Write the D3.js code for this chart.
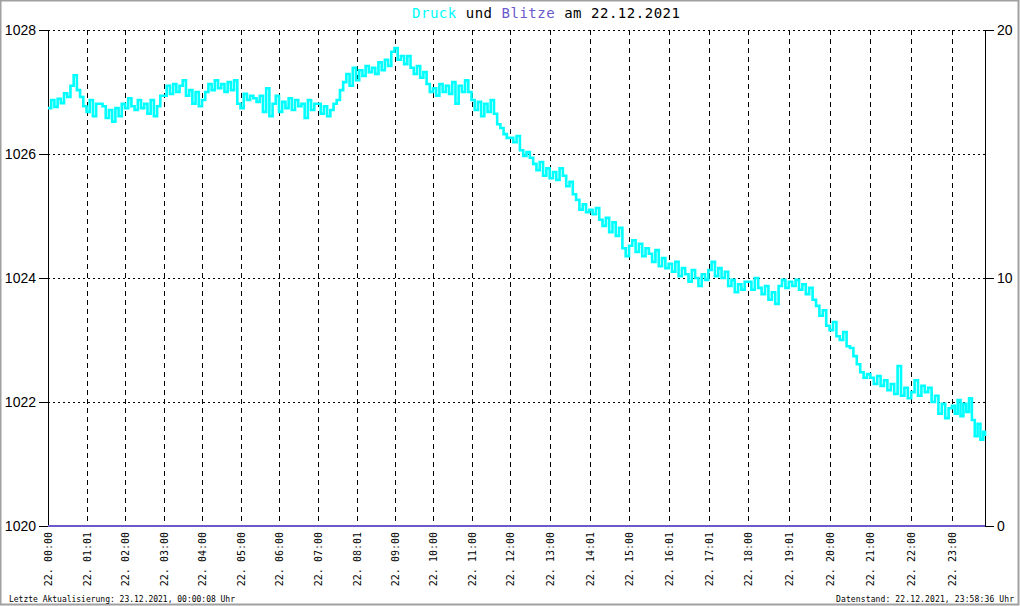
<!DOCTYPE html>
<html><head><meta charset="utf-8">
<script src="https://cdn.jsdelivr.net/npm/d3@7"></script>
<style>body{margin:0;background:#fff;overflow:hidden}</style>
</head><body><svg id="c" width="1020" height="606"></svg>
<script>
// ---- data ----
const druckStepMinutes = 5;
const druckLastMinute = 1438;
const druck = [
1026.74,1026.87,1026.76,1026.89,1026.82,1026.98,1026.92,1027.10,1027.27,1027.03,1026.92,1026.77,
1026.68,1026.87,1026.61,1026.81,1026.81,1026.77,1026.58,1026.71,1026.52,1026.74,1026.61,1026.81,
1026.74,1026.90,1026.77,1026.71,1026.87,1026.74,1026.81,1026.65,1026.87,1026.61,1026.77,1026.94,
1026.94,1027.10,1026.97,1027.13,1027.00,1027.10,1027.19,1026.94,1027.03,1026.81,1027.00,1026.77,
1026.87,1027.00,1027.13,1027.03,1027.19,1027.06,1027.13,1027.00,1027.16,1027.03,1027.19,1026.81,
1026.74,1026.97,1026.87,1026.94,1026.90,1026.84,1026.94,1026.68,1027.06,1026.61,1026.81,1026.94,
1026.68,1026.84,1026.74,1026.90,1026.71,1026.87,1026.77,1026.81,1026.58,1026.87,1026.71,1026.81,
1026.81,1026.65,1026.77,1026.61,1026.71,1026.81,1026.87,1027.03,1027.16,1027.29,1027.10,1027.39,
1027.19,1027.35,1027.26,1027.42,1027.32,1027.39,1027.29,1027.48,1027.35,1027.52,1027.42,1027.65,
1027.71,1027.52,1027.58,1027.45,1027.58,1027.39,1027.29,1027.42,1027.23,1027.32,1027.13,1027.00,
1027.06,1026.94,1027.13,1027.00,1027.10,1026.97,1027.16,1026.81,1027.10,1027.00,1027.19,1027.00,
1026.87,1026.71,1026.84,1026.61,1026.81,1026.68,1026.87,1026.65,1026.48,1026.42,1026.32,1026.26,
1026.26,1026.19,1026.29,1026.06,1025.97,1026.03,1025.94,1025.84,1025.74,1025.87,1025.65,1025.77,
1025.61,1025.71,1025.58,1025.77,1025.65,1025.48,1025.55,1025.35,1025.26,1025.10,1025.19,1025.06,
1025.10,1025.03,1025.13,1024.94,1024.84,1024.97,1024.74,1024.90,1024.68,1024.81,1024.48,1024.35,
1024.52,1024.61,1024.42,1024.55,1024.35,1024.48,1024.39,1024.26,1024.45,1024.19,1024.32,1024.16,
1024.23,1024.10,1024.26,1024.03,1024.16,1024.06,1023.94,1024.13,1024.00,1023.87,1024.06,1023.97,
1024.13,1024.26,1024.03,1024.16,1024.00,1024.10,1023.87,1023.97,1023.77,1023.90,1023.81,1023.94,
1023.94,1023.81,1024.00,1023.84,1023.74,1023.87,1023.65,1023.77,1023.58,1023.87,1023.97,1023.84,
1023.94,1023.87,1023.97,1023.81,1023.90,1023.74,1023.84,1023.65,1023.55,1023.39,1023.48,1023.23,
1023.16,1023.29,1023.06,1023.00,1023.13,1022.90,1022.87,1022.74,1022.61,1022.48,1022.39,1022.45,
1022.39,1022.29,1022.42,1022.26,1022.35,1022.19,1022.29,1022.13,1022.58,1022.10,1022.23,1022.06,
1022.16,1022.35,1022.10,1022.26,1022.16,1022.23,1022.00,1022.10,1021.81,1021.97,1021.74,1021.90,
1021.94,1021.81,1022.03,1021.77,1021.97,1021.84,1022.06,1021.71,1021.45,1021.65,1021.39,1021.52,
1021.45
];
const blitzeMinutes = [0, 1438];
const blitze = [0, 0];
const leftTicks = [1020, 1022, 1024, 1026, 1028];
const rightTicks = [0, 10, 20];
const hourTickMinutes = [0,61,120,180,240,300,360,420,481,540,600,660,720,780,841,900,961,1021,1080,1141,1200,1260,1320,1380];
const hourTickLabels = ["22. 00:00","22. 01:01","22. 02:00","22. 03:00","22. 04:00","22. 05:00","22. 06:00","22. 07:00","22. 08:01","22. 09:00","22. 10:00","22. 11:00","22. 12:00","22. 13:00","22. 14:01","22. 15:00","22. 16:01","22. 17:01","22. 18:00","22. 19:01","22. 20:00","22. 21:00","22. 22:00","22. 23:00"];
const titleParts = [["Druck","#00ffff"],[" und ","#000"],["Blitze","#6a5acd"],[" am 22.12.2021","#000"]];
const footerLeft = "Letzte Aktualisierung: 23.12.2021, 00:00:08 Uhr";
const footerRight = "Datenstand: 22.12.2021, 23:58:36 Uhr";

// ---- layout ----
const L = 48, R = 985, T = 30, B = 526;
const svg = d3.select("#c");
const mono = "'DejaVu Sans Mono', monospace";

svg.append("rect").attr("x",0.5).attr("y",0.5).attr("width",1018).attr("height",604)
  .attr("fill","#fff").attr("stroke","#a0a0a0").attr("stroke-width",2);

// x scale (data points are spaced by index in original -> slightly uneven hours)
const x = d3.scaleLinear().domain([0, 720, 1080, 1380, 1438]).range([L, 510, 748, 952, R]);
const y = d3.scaleLinear().domain([1020, 1028]).range([B, T]);
const y2 = d3.scaleLinear().domain([0, 20]).range([B, T]);

// gridlines
svg.append("g").selectAll("line").data(leftTicks.filter(d => d > 1020)).join("line")
  .attr("x1", L).attr("x2", R).attr("y1", d => Math.round(y(d)) + 0.5).attr("y2", d => Math.round(y(d)) + 0.5)
  .attr("stroke","#000").attr("stroke-width",1).attr("stroke-dasharray","2,3");
svg.append("g").selectAll("line").data(hourTickMinutes.slice(1)).join("line")
  .attr("x1", d => Math.round(x(d)) + 0.5).attr("x2", d => Math.round(x(d)) + 0.5)
  .attr("y1", T).attr("y2", B)
  .attr("stroke","#000").attr("stroke-width",1).attr("stroke-dasharray","5,4");

// axes
const ay = svg.append("g").attr("transform",`translate(${L},0)`)
  .call(d3.axisLeft(y).tickValues(leftTicks).tickSize(9).tickPadding(3).tickFormat(d3.format("d")));
ay.select(".domain").remove();
ay.selectAll("text").attr("font-family","'Liberation Sans', Arial, sans-serif").attr("font-size",14).attr("fill","#000");
const ay2 = svg.append("g").attr("transform",`translate(${R},0)`)
  .call(d3.axisRight(y2).tickValues(rightTicks).tickSize(9).tickPadding(3));
ay2.select(".domain").remove();
ay2.selectAll("text").attr("font-family","'Liberation Sans', Arial, sans-serif").attr("font-size",14).attr("fill","#000");

svg.append("line").attr("x1",L+0.5).attr("x2",L+0.5).attr("y1",T).attr("y2",B).attr("stroke","#000");
svg.append("line").attr("x1",R+0.5).attr("x2",R+0.5).attr("y1",T).attr("y2",B).attr("stroke","#000");

// x labels
svg.append("g").selectAll("text").data(hourTickMinutes).join("text")
  .attr("transform", (d) => `translate(${Math.round(x(d)) + 4},532) rotate(-90)`)
  .attr("text-anchor","end")
  .attr("font-family", mono).attr("font-size",10).attr("fill","#000")
  .text((d,i) => hourTickLabels[i]);

// Druck line
const pts = druck.map((v,i) => [i < druck.length - 1 ? i * druckStepMinutes : druckLastMinute, v]);
svg.append("path").datum(pts)
  .attr("d", d3.line().x(d => x(d[0])).y(d => y(d[1])).curve(d3.curveStepAfter))
  .attr("fill","none").attr("stroke","#00ffff").attr("stroke-width",2.6);

// Blitze line
svg.append("path").datum(blitzeMinutes.map((m,i) => [m, blitze[i]]))
  .attr("d", d3.line().x(d => x(d[0])).y(d => y2(d[1])))
  .attr("fill","none").attr("stroke","#6a5acd").attr("stroke-width",2);

// title
const title = svg.append("text").attr("x", 412).attr("y", 18)
  .attr("font-family", mono).attr("font-size",14)
  .attr("textLength", 268).attr("lengthAdjust","spacing");
titleParts.forEach(p => title.append("tspan").attr("fill", p[1]).text(p[0]));

// footers
svg.append("text").attr("x",9).attr("y",602).attr("font-family",mono).attr("font-size",8)
  .attr("fill","#000").attr("textLength",226).attr("lengthAdjust","spacing").text(footerLeft);
svg.append("text").attr("x",836).attr("y",602).attr("font-family",mono).attr("font-size",8)
  .attr("fill","#000").attr("textLength",178).attr("lengthAdjust","spacing").text(footerRight);
</script>
</body></html>
